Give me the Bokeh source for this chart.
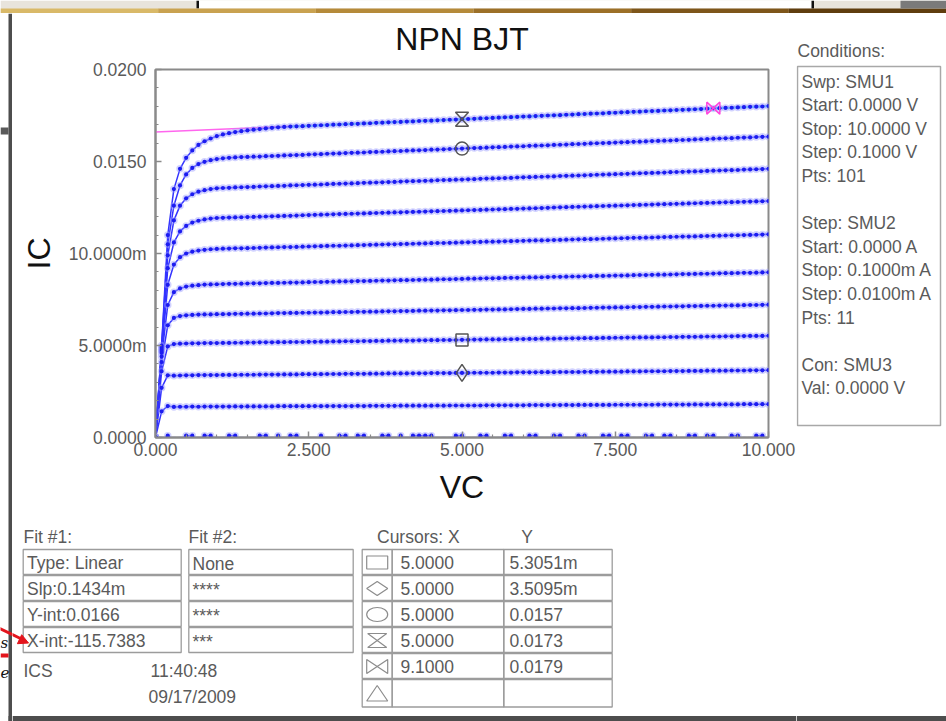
import numpy as np
from bokeh.plotting import figure
from bokeh.models import Range1d, FixedTicker, CustomJSTickFormatter
from bokeh.layouts import column, row
from bokeh.embed import file_html
from bokeh.resources import INLINE
from bokeh.core.properties import value

FONT = "Liberation Sans"
GRAY_TXT = "#5a5a5a"
FRAME_GRAY = "#8a8a8a"

# ---------------- text / ticks ----------------
TITLE = "NPN BJT"
X_LABEL = "VC"
Y_LABEL = "IC"
X_TICKS = [0.0, 2.5, 5.0, 7.5, 10.0]
X_TICK_LABELS = ["0.000", "2.500", "5.000", "7.500", "10.000"]
X_MINOR = [0.5, 1.0, 1.5, 2.0, 3.0, 3.5, 4.0, 4.5, 5.5, 6.0, 6.5, 7.0, 8.0, 8.5, 9.0, 9.5]
Y_TICKS_MA = [0, 5, 10, 15, 20]
Y_TICK_LABELS = ["0.0000", "5.0000m", "10.0000m", "0.0150", "0.0200"]
Y_MINOR_MA = [1, 2, 3, 4, 6, 7, 8, 9, 11, 12, 13, 14, 16, 17, 18, 19]

# ---------------- sweep (from Conditions) ----------------
VC_START, VC_STEP, VC_PTS = 0.0, 0.1, 101

# ---------------- IC traces (mA), one per base-current step ----------------
IC_IB00 = [
    0.00, -0.15, 0.10, -0.15, -0.15, 0.10, 0.10, -0.15, 0.10, 0.10,
    -0.15, -0.15, 0.10, 0.10, -0.15, -0.15, -0.15, 0.10, 0.10, -0.15,
    0.10, -0.15, 0.10, 0.10, -0.15, -0.15, -0.15, 0.10, -0.15, -0.15,
    0.10, 0.10, -0.15, 0.10, 0.10, -0.15, -0.15, 0.10, 0.10, -0.15,
    0.10, -0.15, 0.10, 0.10, 0.10, 0.10, -0.15, -0.15, -0.15, 0.10,
    0.10, -0.15, -0.15, 0.10, 0.10, -0.15, -0.15, 0.10, 0.10, -0.15,
    -0.15, 0.10, 0.10, -0.15, -0.15, 0.10, 0.10, -0.15, -0.15, 0.10,
    0.10, -0.15, -0.15, 0.10, 0.10, -0.15, 0.10, 0.10, -0.15, -0.15,
    0.10, 0.10, -0.15, 0.10, 0.10, -0.15, -0.15, 0.10, 0.10, -0.15,
    0.10, 0.10, -0.15, -0.15, 0.10, 0.10, -0.15, -0.15, 0.10, 0.10,
    -0.15]
IC_IB01 = [
    0.00, 1.42, 1.71, 1.66, 1.67, 1.67, 1.68, 1.67, 1.68, 1.68,
    1.68, 1.68, 1.68, 1.69, 1.68, 1.69, 1.69, 1.69, 1.69, 1.69,
    1.70, 1.70, 1.70, 1.70, 1.70, 1.70, 1.71, 1.70, 1.71, 1.71,
    1.71, 1.71, 1.71, 1.72, 1.71, 1.72, 1.72, 1.72, 1.72, 1.72,
    1.73, 1.73, 1.73, 1.73, 1.73, 1.73, 1.74, 1.73, 1.74, 1.74,
    1.74, 1.74, 1.74, 1.74, 1.75, 1.75, 1.75, 1.75, 1.75, 1.75,
    1.75, 1.76, 1.76, 1.76, 1.76, 1.76, 1.76, 1.77, 1.76, 1.77,
    1.77, 1.77, 1.77, 1.77, 1.77, 1.78, 1.78, 1.78, 1.78, 1.78,
    1.78, 1.78, 1.79, 1.79, 1.79, 1.79, 1.79, 1.79, 1.80, 1.79,
    1.80, 1.80, 1.80, 1.80, 1.80, 1.80, 1.81, 1.81, 1.81, 1.81,
    1.81]
IC_IB02 = [
    0.00, 2.70, 3.38, 3.36, 3.37, 3.38, 3.38, 3.39, 3.39, 3.39,
    3.39, 3.40, 3.40, 3.40, 3.41, 3.41, 3.41, 3.42, 3.42, 3.42,
    3.42, 3.43, 3.43, 3.43, 3.44, 3.44, 3.44, 3.44, 3.45, 3.45,
    3.45, 3.46, 3.46, 3.46, 3.46, 3.47, 3.47, 3.47, 3.48, 3.48,
    3.48, 3.48, 3.49, 3.49, 3.49, 3.50, 3.50, 3.50, 3.50, 3.51,
    3.51, 3.51, 3.52, 3.52, 3.52, 3.52, 3.53, 3.53, 3.53, 3.54,
    3.54, 3.54, 3.54, 3.55, 3.55, 3.55, 3.56, 3.56, 3.56, 3.56,
    3.57, 3.57, 3.57, 3.58, 3.58, 3.58, 3.58, 3.59, 3.59, 3.59,
    3.60, 3.60, 3.60, 3.60, 3.61, 3.61, 3.61, 3.62, 3.62, 3.62,
    3.63, 3.63, 3.63, 3.63, 3.64, 3.64, 3.64, 3.65, 3.65, 3.65,
    3.66]
IC_IB03 = [
    0.00, 3.60, 4.95, 5.08, 5.10, 5.11, 5.12, 5.12, 5.13, 5.13,
    5.13, 5.14, 5.14, 5.15, 5.15, 5.16, 5.16, 5.17, 5.17, 5.17,
    5.18, 5.18, 5.19, 5.19, 5.19, 5.20, 5.20, 5.21, 5.21, 5.22,
    5.22, 5.23, 5.23, 5.23, 5.24, 5.24, 5.25, 5.25, 5.26, 5.26,
    5.27, 5.27, 5.27, 5.28, 5.28, 5.29, 5.29, 5.30, 5.30, 5.30,
    5.31, 5.31, 5.32, 5.32, 5.33, 5.33, 5.33, 5.34, 5.34, 5.35,
    5.35, 5.36, 5.36, 5.37, 5.37, 5.37, 5.38, 5.38, 5.39, 5.39,
    5.40, 5.40, 5.40, 5.41, 5.41, 5.42, 5.42, 5.43, 5.43, 5.44,
    5.44, 5.44, 5.45, 5.45, 5.46, 5.46, 5.47, 5.47, 5.47, 5.48,
    5.49, 5.49, 5.49, 5.50, 5.50, 5.51, 5.51, 5.52, 5.52, 5.52,
    5.53]
IC_IB04 = [
    0.00, 4.10, 6.10, 6.50, 6.60, 6.64, 6.66, 6.68, 6.69, 6.69,
    6.70, 6.70, 6.71, 6.72, 6.72, 6.73, 6.73, 6.74, 6.74, 6.75,
    6.76, 6.76, 6.77, 6.77, 6.78, 6.78, 6.79, 6.79, 6.80, 6.81,
    6.81, 6.82, 6.82, 6.83, 6.83, 6.84, 6.84, 6.85, 6.86, 6.86,
    6.87, 6.87, 6.88, 6.89, 6.89, 6.90, 6.90, 6.91, 6.91, 6.92,
    6.93, 6.93, 6.94, 6.94, 6.95, 6.95, 6.96, 6.96, 6.97, 6.98,
    6.99, 6.99, 7.00, 7.00, 7.01, 7.01, 7.02, 7.02, 7.03, 7.03,
    7.04, 7.05, 7.05, 7.06, 7.06, 7.07, 7.07, 7.08, 7.09, 7.09,
    7.10, 7.10, 7.11, 7.12, 7.12, 7.13, 7.13, 7.14, 7.14, 7.15,
    7.16, 7.16, 7.17, 7.17, 7.18, 7.18, 7.19, 7.20, 7.20, 7.21,
    7.22]
IC_IB05 = [
    0.00, 4.40, 7.20, 7.90, 8.10, 8.20, 8.25, 8.28, 8.31, 8.32,
    8.33, 8.34, 8.35, 8.35, 8.36, 8.37, 8.38, 8.38, 8.39, 8.40,
    8.40, 8.41, 8.42, 8.42, 8.43, 8.44, 8.45, 8.45, 8.46, 8.47,
    8.48, 8.48, 8.49, 8.50, 8.50, 8.51, 8.52, 8.53, 8.53, 8.54,
    8.55, 8.55, 8.56, 8.57, 8.58, 8.58, 8.59, 8.60, 8.60, 8.61,
    8.62, 8.63, 8.63, 8.64, 8.65, 8.65, 8.66, 8.67, 8.68, 8.68,
    8.69, 8.70, 8.70, 8.71, 8.72, 8.73, 8.73, 8.74, 8.75, 8.75,
    8.76, 8.77, 8.78, 8.78, 8.79, 8.80, 8.80, 8.81, 8.82, 8.83,
    8.83, 8.84, 8.85, 8.85, 8.86, 8.87, 8.88, 8.88, 8.89, 8.90,
    8.90, 8.91, 8.92, 8.93, 8.93, 8.94, 8.95, 8.95, 8.96, 8.97,
    8.98]
IC_IB06 = [
    0.00, 4.60, 8.30, 9.40, 9.80, 10.00, 10.10, 10.16, 10.20, 10.23,
    10.25, 10.26, 10.27, 10.28, 10.28, 10.29, 10.30, 10.31, 10.32, 10.33,
    10.34, 10.35, 10.35, 10.36, 10.37, 10.38, 10.39, 10.40, 10.41, 10.42,
    10.42, 10.43, 10.44, 10.45, 10.46, 10.47, 10.48, 10.49, 10.50, 10.50,
    10.51, 10.52, 10.53, 10.54, 10.55, 10.56, 10.57, 10.57, 10.58, 10.59,
    10.60, 10.61, 10.62, 10.63, 10.64, 10.64, 10.65, 10.66, 10.67, 10.68,
    10.69, 10.70, 10.71, 10.71, 10.72, 10.73, 10.74, 10.75, 10.76, 10.77,
    10.78, 10.78, 10.79, 10.80, 10.81, 10.82, 10.83, 10.84, 10.85, 10.85,
    10.86, 10.87, 10.88, 10.89, 10.90, 10.91, 10.92, 10.92, 10.93, 10.94,
    10.95, 10.96, 10.97, 10.98, 10.99, 10.99, 11.00, 11.01, 11.02, 11.03,
    11.04]
IC_IB07 = [
    0.00, 4.70, 9.20, 10.60, 11.20, 11.50, 11.68, 11.78, 11.85, 11.90,
    11.93, 11.94, 11.95, 11.96, 11.97, 11.98, 11.99, 12.00, 12.01, 12.02,
    12.03, 12.04, 12.05, 12.06, 12.08, 12.09, 12.10, 12.11, 12.12, 12.13,
    12.14, 12.15, 12.16, 12.17, 12.18, 12.19, 12.20, 12.21, 12.22, 12.23,
    12.24, 12.25, 12.26, 12.27, 12.28, 12.29, 12.30, 12.31, 12.32, 12.33,
    12.34, 12.35, 12.36, 12.37, 12.38, 12.39, 12.40, 12.41, 12.42, 12.43,
    12.44, 12.45, 12.46, 12.47, 12.48, 12.50, 12.51, 12.52, 12.53, 12.54,
    12.55, 12.56, 12.57, 12.58, 12.59, 12.60, 12.61, 12.62, 12.63, 12.64,
    12.65, 12.66, 12.67, 12.68, 12.69, 12.70, 12.71, 12.72, 12.73, 12.74,
    12.75, 12.76, 12.77, 12.78, 12.79, 12.80, 12.81, 12.82, 12.83, 12.84,
    12.85]
IC_IB08 = [
    0.00, 4.80, 9.90, 11.80, 12.60, 13.00, 13.22, 13.36, 13.44, 13.50,
    13.54, 13.56, 13.57, 13.59, 13.60, 13.61, 13.62, 13.64, 13.65, 13.66,
    13.67, 13.68, 13.70, 13.71, 13.72, 13.73, 13.74, 13.75, 13.77, 13.78,
    13.79, 13.80, 13.81, 13.82, 13.84, 13.85, 13.86, 13.87, 13.88, 13.89,
    13.91, 13.92, 13.93, 13.94, 13.95, 13.96, 13.98, 13.99, 14.00, 14.01,
    14.02, 14.03, 14.04, 14.06, 14.07, 14.08, 14.09, 14.10, 14.11, 14.13,
    14.14, 14.15, 14.16, 14.17, 14.18, 14.19, 14.21, 14.22, 14.23, 14.24,
    14.25, 14.26, 14.28, 14.29, 14.30, 14.31, 14.32, 14.33, 14.35, 14.36,
    14.37, 14.38, 14.39, 14.40, 14.42, 14.43, 14.44, 14.45, 14.46, 14.47,
    14.49, 14.50, 14.51, 14.52, 14.53, 14.54, 14.56, 14.57, 14.58, 14.59,
    14.60]
IC_IB09 = [
    0.00, 4.90, 10.50, 12.60, 13.70, 14.30, 14.65, 14.86, 14.98, 15.07,
    15.13, 15.17, 15.20, 15.22, 15.24, 15.25, 15.26, 15.27, 15.29, 15.30,
    15.31, 15.33, 15.34, 15.35, 15.36, 15.38, 15.39, 15.40, 15.42, 15.43,
    15.44, 15.46, 15.47, 15.48, 15.49, 15.51, 15.52, 15.53, 15.55, 15.56,
    15.57, 15.59, 15.60, 15.61, 15.62, 15.64, 15.65, 15.66, 15.68, 15.69,
    15.70, 15.72, 15.73, 15.74, 15.75, 15.77, 15.78, 15.79, 15.81, 15.82,
    15.83, 15.85, 15.86, 15.87, 15.88, 15.90, 15.91, 15.92, 15.94, 15.95,
    15.96, 15.98, 15.99, 16.00, 16.01, 16.03, 16.04, 16.05, 16.07, 16.08,
    16.09, 16.11, 16.12, 16.13, 16.14, 16.16, 16.17, 16.18, 16.20, 16.21,
    16.22, 16.24, 16.25, 16.26, 16.27, 16.29, 16.30, 16.31, 16.33, 16.34,
    16.35]
IC_IB10 = [
    0.00, 5.00, 11.00, 13.50, 14.60, 15.20, 15.60, 15.90, 16.10, 16.25,
    16.38, 16.47, 16.54, 16.60, 16.65, 16.69, 16.73, 16.76, 16.80, 16.83,
    16.86, 16.88, 16.90, 16.91, 16.92, 16.94, 16.95, 16.97, 16.98, 17.00,
    17.01, 17.03, 17.04, 17.05, 17.07, 17.08, 17.10, 17.11, 17.13, 17.14,
    17.15, 17.17, 17.18, 17.20, 17.21, 17.22, 17.24, 17.25, 17.27, 17.28,
    17.30, 17.31, 17.32, 17.34, 17.35, 17.37, 17.38, 17.40, 17.41, 17.42,
    17.44, 17.45, 17.47, 17.48, 17.50, 17.51, 17.52, 17.54, 17.55, 17.57,
    17.58, 17.60, 17.61, 17.62, 17.64, 17.65, 17.67, 17.68, 17.70, 17.71,
    17.73, 17.74, 17.75, 17.77, 17.78, 17.80, 17.81, 17.82, 17.84, 17.85,
    17.87, 17.88, 17.90, 17.91, 17.92, 17.94, 17.95, 17.97, 17.98, 17.99,
    18.01]
IC_TRACES = [IC_IB00, IC_IB01, IC_IB02, IC_IB03, IC_IB04, IC_IB05,
             IC_IB06, IC_IB07, IC_IB08, IC_IB09, IC_IB10]

# ---------------- linear fit (Fit #1) ----------------
FIT_SLOPE_MA_PER_V = 0.1434   # Slp: 0.1434m
FIT_YINT_MA = 16.6            # Y-int: 0.0166
FIT_HILITE_FROM_V = 2.2       # highlighted part of fitted trace

# ---------------- cursors ----------------
CURSOR_X = [5.0, 5.0, 5.0, 5.0, 9.1]
CURSOR_Y_MA = [5.3051, 3.5095, 15.7, 17.3, 17.9]
CURSOR_X_TXT = ["5.0000", "5.0000", "5.0000", "5.0000", "9.1000", ""]
CURSOR_Y_TXT = ["5.3051m", "3.5095m", "0.0157", "0.0173", "0.0179", ""]

# ---------------- side panel texts ----------------
COND_LINES = ["Swp: SMU1", "Start: 0.0000 V", "Stop: 10.0000 V", "Step: 0.1000 V", "Pts: 101", "",
              "Step: SMU2", "Start: 0.0000 A", "Stop: 0.1000m A", "Step: 0.0100m A", "Pts: 11", "",
              "Con: SMU3", "Val: 0.0000 V"]
FIT1_LINES = ["Type: Linear", "Slp:0.1434m", "Y-int:0.0166", "X-int:-115.7383"]
FIT2_LINES = ["None", "****", "****", "***"]

vc = np.round(VC_START + VC_STEP * np.arange(VC_PTS), 4)


# =====================================================================
# helper panels in pixel coordinates of the whole page (y downwards)
def panel(x0, y0, w, h):
    p = figure(width=w, height=h, x_range=Range1d(x0, x0 + w), y_range=Range1d(y0 + h, y0),
               output_backend="svg", toolbar_location=None, title=None,
               x_axis_type=None, y_axis_type=None,
               min_border=0, min_border_left=0, min_border_right=0,
               min_border_top=0, min_border_bottom=0)
    p.outline_line_color = None
    p.background_fill_color = "white"
    p.border_fill_color = "white"
    return p


def txt(p, xs, ys, texts, size="17.5px", color=GRAY_TXT, align="left",
        font=FONT, style="normal"):
    p.text(x=xs, y=ys, text=texts, text_font=value(font), text_font_size=size,
           text_color=color, text_align=align, text_baseline="middle",
           text_font_style=style)


def boxes(p, l, r, t, b, color="#9c9c9c", width=1.3):
    p.quad(left=l, right=r, top=t, bottom=b, fill_color=None, line_color=color,
           line_width=width)


# =====================================================================
# title strip above the chart
TT = panel(12, 13, 784, 44)
txt(TT, [461.5], [38.5], [TITLE], size="32px", color="#111111", align="center")

# main chart
FRAME_W, FRAME_H = 613, 368
M = figure(width=784, height=463, x_range=Range1d(0, 10), y_range=Range1d(0, 20),
           output_backend="svg", toolbar_location=None, title=None,
           min_border_left=143, min_border_right=28, min_border_top=12, min_border_bottom=83)
M.xgrid.visible = False
M.ygrid.visible = False
M.outline_line_color = FRAME_GRAY
M.outline_line_width = 2
M.background_fill_color = "white"
M.border_fill_color = "white"

for ax in (M.xaxis[0], M.yaxis[0]):
    ax.axis_line_color = FRAME_GRAY
    ax.axis_line_width = 2
    ax.major_tick_line_color = FRAME_GRAY
    ax.minor_tick_line_color = FRAME_GRAY
    ax.major_tick_line_width = 1.5
    ax.minor_tick_line_width = 1.2
    ax.major_tick_in = 6
    ax.major_tick_out = 0
    ax.minor_tick_in = 3
    ax.minor_tick_out = 0
    ax.major_label_text_font = FONT
    ax.major_label_text_font_size = "17.5px"
    ax.major_label_text_color = GRAY_TXT
    ax.axis_label_text_font = FONT
    ax.axis_label_text_font_size = "32px"
    ax.axis_label_text_font_style = "normal"
    ax.axis_label_text_color = "#111111"

FMT_CODE = """
const i = vals.findIndex(v => Math.abs(v - tick) < 1e-6);
return i >= 0 ? labels[i] : "";
"""
M.xaxis.axis_label = X_LABEL
M.xaxis.ticker = FixedTicker(ticks=X_TICKS, minor_ticks=X_MINOR)
M.xaxis.formatter = CustomJSTickFormatter(args=dict(vals=X_TICKS, labels=X_TICK_LABELS), code=FMT_CODE)
M.xaxis.major_label_standoff = 5
M.xaxis.axis_label_standoff = 10
M.yaxis.axis_label = Y_LABEL
M.yaxis.ticker = FixedTicker(ticks=Y_TICKS_MA, minor_ticks=Y_MINOR_MA)
M.yaxis.formatter = CustomJSTickFormatter(args=dict(vals=Y_TICKS_MA, labels=Y_TICK_LABELS), code=FMT_CODE)
M.yaxis.major_label_standoff = 9
M.yaxis.axis_label_standoff = 9

BLUE_LINE = "#3434ff"
BLUE_DOT = "#1c1cf0"
HALO = "#9a9cff"

# fit line (under the data)
M.line([0, 10], [FIT_YINT_MA, FIT_YINT_MA + FIT_SLOPE_MA_PER_V * 10],
       line_color="#ff66ee", line_width=1.6)
for tr in IC_TRACES:
    M.line(vc, tr, line_color=BLUE_LINE, line_width=1.5)
hi = vc >= FIT_HILITE_FROM_V
M.line(vc[hi], np.array(IC_IB10)[hi], line_color="#3fd0ff", line_width=2.2)
for tr in IC_TRACES:
    M.scatter(vc, tr, size=7.5, fill_color=HALO, fill_alpha=0.45, line_color=None)
for tr in IC_TRACES:
    M.scatter(vc, tr, size=4.2, fill_color=BLUE_DOT, line_color=None)

# cursor markers
CUR_GRAY = "#555555"
M.scatter([CURSOR_X[0]], [CURSOR_Y_MA[0]], marker="square", size=12, fill_color=None,
          line_color=CUR_GRAY, line_width=1.5)
M.scatter([CURSOR_X[1]], [CURSOR_Y_MA[1]], marker="diamond", size=17, fill_color=None,
          line_color=CUR_GRAY, line_width=1.5)
M.scatter([CURSOR_X[2]], [CURSOR_Y_MA[2]], marker="circle", size=13, fill_color=None,
          line_color=CUR_GRAY, line_width=1.5)
PX_X = 10.0 / FRAME_W
PX_Y = 20.0 / FRAME_H
hx, hy = 6.5 * PX_X, 7.0 * PX_Y
cx, cy = CURSOR_X[3], CURSOR_Y_MA[3]
M.patch([cx - hx, cx + hx, cx - hx, cx + hx], [cy + hy, cy + hy, cy - hy, cy - hy],
        fill_color=None, line_color=CUR_GRAY, line_width=1.5)
cx, cy = CURSOR_X[4], CURSOR_Y_MA[4]
hy2 = 6.0 * PX_Y
M.patch([cx - hx, cx - hx, cx + hx, cx + hx], [cy + hy2, cy - hy2, cy + hy2, cy - hy2],
        fill_color=None, line_color="#ff44dd", line_width=1.5)

RED = "#e3141c"
DARK = "#4d4d4d"


def arrow(p):
    p.line([-3, 21], [627, 638.5], line_color=RED, line_width=3)
    p.patch([28, 16.9, 21.2], [642.5, 643.2, 634.2], fill_color=RED, line_color=RED)


# ---- top strip
T = panel(0, 0, 946, 13)
T.quad(left=[0], right=[946], top=[0], bottom=[13], fill_color="#e8e4dc", line_color=None)
T.quad(left=[197], right=[812], top=[0], bottom=[8], fill_color="white", line_color=None)
T.quad(left=[196, 811], right=[198.5, 813.5], top=[0, 0], bottom=[8, 8], fill_color="#111111",
       line_color=None)
band_cols = ["#d9b968", "#c9a250", "#b58a3a", "#9c7028", "#7e561a", "#5f3d0e"]
bw = 946 / len(band_cols)
T.quad(left=[i * bw for i in range(len(band_cols))], right=[(i + 1) * bw for i in range(len(band_cols))],
       top=[8] * len(band_cols), bottom=[13] * len(band_cols), fill_color=band_cols, line_color=None)
T.quad(left=[900], right=[946], top=[0], bottom=[8], fill_color="#7a7a7a", line_color=None)

# ---- left strip
L = panel(0, 13, 12, 708)
L.quad(left=[8], right=[11.5], top=[13], bottom=[721], fill_color=DARK, line_color=None)
L.quad(left=[0], right=[8], top=[127], bottom=[134], fill_color="#5a5a5a", line_color=None)
L.quad(left=[0], right=[8], top=[653], bottom=[657], fill_color=RED, line_color=None)
L.quad(left=[8], right=[12], top=[715.5], bottom=[721], fill_color=DARK, line_color=None)
txt(L, [0], [642], ["s"], size="15px", color="#111111", font="DejaVu Serif", style="italic")
txt(L, [0], [672], ["e"], size="15px", color="#111111", font="DejaVu Serif", style="italic")
arrow(L)

# ---- conditions panel (full right column)
C = panel(796, 13, 150, 708)
txt(C, [797], [50], ["Conditions:"])
boxes(C, [797], [940], [66], [425], color="#a8a8a8", width=1.5)
cond_y = [81 + 23.6 * i for i in range(len(COND_LINES))]
txt(C, [801] * len(COND_LINES), cond_y, COND_LINES)
C.quad(left=[796], right=[946], top=[715.5], bottom=[721], fill_color=DARK, line_color=None)

# ---- bottom panel
B = panel(12, 520, 784, 201)
txt(B, [23], [536], ["Fit #1:"])
txt(B, [188], [536], ["Fit #2:"])
row_tops = [549 + 26 * i for i in range(6)]
ft = row_tops[:4]
boxes(B, [22.7] * 4, [180.7] * 4, ft, [t + 25 for t in ft])
boxes(B, [188.3] * 4, [352.7] * 4, ft, [t + 25 for t in ft])
txt(B, [26.5] * 4, [t + 13 for t in ft], FIT1_LINES)
txt(B, [192] * 4, [t + 14 for t in ft], FIT2_LINES)
txt(B, [23], [670], ["ICS"])
txt(B, [150], [670], ["11:40:48"])
txt(B, [148], [696], ["09/17/2009"])

txt(B, [376.5], [536], ["Cursors: X"])
txt(B, [526.5], [536], ["Y"], align="center")
ct_bot = [t + 25 for t in row_tops[:5]] + [706.5]
boxes(B, [361.7] * 6, [391.7] * 6, row_tops, ct_bot)
boxes(B, [391.7] * 6, [503.3] * 6, row_tops, ct_bot)
boxes(B, [503.3] * 6, [611.7] * 6, row_tops, ct_bot)
txt(B, [400] * 6, [t + 13 for t in row_tops], CURSOR_X_TXT)
txt(B, [509] * 6, [t + 13 for t in row_tops], CURSOR_Y_TXT)

ICON = "#8c8c8c"
icx = 376.7
mids = [t + 13 for t in row_tops[:5]] + [693]
B.quad(left=[icx - 10.5], right=[icx + 10.5], top=[mids[0] - 6.5], bottom=[mids[0] + 6.5],
       fill_color=None, line_color=ICON, line_width=1.2)
B.patch([icx - 10.5, icx, icx + 10.5, icx], [mids[1], mids[1] - 7, mids[1], mids[1] + 7],
        fill_color=None, line_color=ICON, line_width=1.2)
B.ellipse([icx], [mids[2]], width=21, height=14, fill_color=None, line_color=ICON, line_width=1.2)
B.patch([icx - 9.5, icx + 9.5, icx - 9.5, icx + 9.5], [mids[3] - 7, mids[3] - 7, mids[3] + 7, mids[3] + 7],
        fill_color=None, line_color=ICON, line_width=1.2)
B.patch([icx - 10.5, icx - 10.5, icx + 10.5, icx + 10.5], [mids[4] - 7, mids[4] + 7, mids[4] - 7, mids[4] + 7],
        fill_color=None, line_color=ICON, line_width=1.2)
B.patch([icx - 10.5, icx, icx + 10.5], [mids[5] + 7.5, mids[5] - 8, mids[5] + 7.5],
        fill_color=None, line_color=ICON, line_width=1.2)
B.quad(left=[12], right=[796], top=[715.5], bottom=[721], fill_color=DARK, line_color=None)
arrow(B)

layout = column(T, row(L, column(row(TT), M, row(B)), C))
open("out.html", "w").write(file_html(layout, INLINE))
